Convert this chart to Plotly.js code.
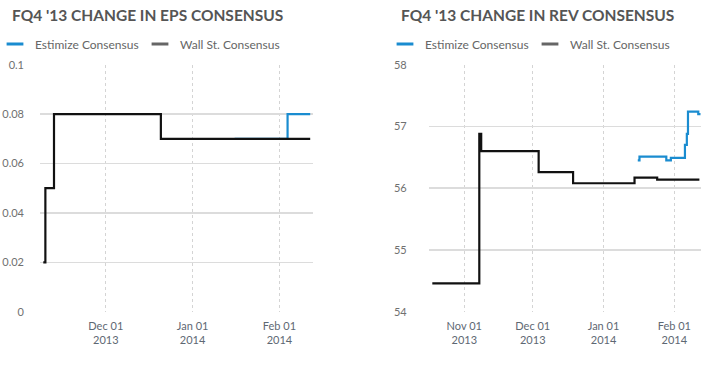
<!DOCTYPE html>
<html>
<head>
<meta charset="utf-8">
<script src="https://cdn.plot.ly/plotly-3.0.1.min.js"></script>
<style>
html,body{margin:0;padding:0;background:#fff;}
#chart{width:714px;height:378px;}
</style>
</head>
<body>
<div id="chart"></div>
<script>
// EPS consensus
const epsWallDates = ['2013-11-08 16:00','2013-11-09 10:00','2013-11-12 12:00','2013-12-20 16:00','2014-02-12'];
const epsWallValues = [0.02, 0.05, 0.08, 0.07, 0.07];
const epsEstDates = ['2014-01-16','2014-02-03 22:00','2014-02-12'];
const epsEstValues = [0.07, 0.08, 0.08];

// Revenue consensus
const revWallDates = ['2013-10-18','2013-11-07 14:00','2013-11-08 10:00','2013-12-03 14:00','2013-12-18 16:00','2014-01-14 14:00','2014-01-24 12:00','2014-02-12'];
const revWallValues = [54.46, 56.88, 56.60, 56.26, 56.08, 56.17, 56.14, 56.14];
const revEstDates = ['2014-01-16','2014-01-16 18:00','2014-01-28 12:00','2014-01-30 12:00','2014-02-05 16:00','2014-02-06 12:00','2014-02-07','2014-02-11 12:00','2014-02-12'];
const revEstValues = [56.45, 56.51, 56.45, 56.49, 56.70, 56.88, 57.24, 57.20, 57.18];

const titles = ["FQ4 '13 CHANGE IN EPS CONSENSUS", "FQ4 '13 CHANGE IN REV CONSENSUS"];
const seriesNames = ['Estimize Consensus', 'Wall St. Consensus'];
const epsTicks = [0, 0.02, 0.04, 0.06, 0.08, 0.1];
const revTicks = [54, 55, 56, 57, 58];

const BLUE = '#1a8cd0';
const BLACK = '#111111';
const LEGGRAY = '#666666';
const W = 714, H = 378;
const px = v => v / W;
const py = v => 1 - v / H;

function legendEntry(name, color, xa, ya, leg) {
  return {x: [null], y: [null], xaxis: xa, yaxis: ya, mode: 'markers', name: name, legend: leg,
          marker: {symbol: 'line-ew', size: 12, color: color, line: {width: 3, color: color}}};
}

const traces = [
  {x: epsEstDates, y: epsEstValues, xaxis: 'x', yaxis: 'y', mode: 'lines', line: {shape: 'hv', color: BLUE, width: 2.2}, showlegend: false, hoverinfo: 'skip'},
  {x: epsWallDates, y: epsWallValues, xaxis: 'x', yaxis: 'y', mode: 'lines', line: {shape: 'hv', color: BLACK, width: 2.2}, showlegend: false, hoverinfo: 'skip'},
  {x: revEstDates, y: revEstValues, xaxis: 'x2', yaxis: 'y2', mode: 'lines', line: {shape: 'hv', color: BLUE, width: 2.2}, showlegend: false, hoverinfo: 'skip'},
  {x: revWallDates, y: revWallValues, xaxis: 'x2', yaxis: 'y2', mode: 'lines', line: {shape: 'hv', color: BLACK, width: 2.2}, showlegend: false, hoverinfo: 'skip'},
  legendEntry(seriesNames[0], BLUE, 'x', 'y', 'legend'),
  legendEntry(seriesNames[1], LEGGRAY, 'x', 'y', 'legend'),
  legendEntry(seriesNames[0], BLUE, 'x2', 'y2', 'legend2'),
  legendEntry(seriesNames[1], LEGGRAY, 'x2', 'y2', 'legend2')
];

const font = 'Lato, "Open Sans", sans-serif';
const xCommon = {
  type: 'date', dtick: 'M1', tick0: '2013-11-01', tickformat: '%b %d<br>%Y',
  showgrid: true, gridcolor: '#d4d4d4', griddash: 'dot', gridwidth: 1,
  zeroline: false, showline: false, ticks: '', ticklabelstandoff: 6,
  tickfont: {family: font, size: 11, color: '#5e6873'}, fixedrange: true
};
const yCommon = {
  showgrid: true, gridcolor: '#dcdcdc', gridwidth: 1.5, zeroline: false, showline: false, ticks: '',
  tickfont: {family: font, size: 11, color: '#707070'}, ticklabelstandoff: 15, fixedrange: true
};

const legendCommon = {
  orientation: 'h', xanchor: 'left', yanchor: 'middle', bgcolor: 'rgba(0,0,0,0)',
  font: {family: font, size: 12, color: '#666'}, entrywidth: 107, entrywidthmode: 'pixels',
  indentation: -7, tracegroupgap: 0
};

const layout = {
  width: W, height: H,
  margin: {l: 0, r: 0, t: 0, b: 0, autoexpand: false},
  paper_bgcolor: '#fff', plot_bgcolor: '#fff',
  xaxis: Object.assign({}, xCommon, {domain: [px(40), px(313)], anchor: 'y', range: ['2013-11-07 12:00', '2014-02-13']}),
  yaxis: Object.assign({}, yCommon, {domain: [py(311.7), py(64.7)], anchor: 'x', range: [0, 0.1], tickvals: epsTicks}),
  xaxis2: Object.assign({}, xCommon, {domain: [px(428.7), px(701.3)], anchor: 'y2', range: ['2013-10-16 10:00', '2014-02-12 20:00']}),
  yaxis2: Object.assign({}, yCommon, {domain: [py(311.7), py(64.7)], anchor: 'x2', range: [54, 58], tickvals: revTicks, ticklabelstandoff: 21}),
  legend: Object.assign({}, legendCommon, {x: px(2), y: py(44)}),
  legend2: Object.assign({}, legendCommon, {x: px(392), y: py(44)}),
  showlegend: true,
  annotations: [
    {text: titles[0], xref: 'paper', yref: 'paper', x: px(10), y: py(15), xanchor: 'left', yanchor: 'middle', showarrow: false,
     font: {family: font, size: 15.5, color: '#555555', weight: 'bold'}},
    {text: titles[1], xref: 'paper', yref: 'paper', x: px(399), y: py(15), xanchor: 'left', yanchor: 'middle', showarrow: false,
     font: {family: font, size: 15.5, color: '#555555', weight: 'bold'}}
  ]
};

Plotly.newPlot('chart', traces, layout, {staticPlot: true, displayModeBar: false});
</script>
</body>
</html>
